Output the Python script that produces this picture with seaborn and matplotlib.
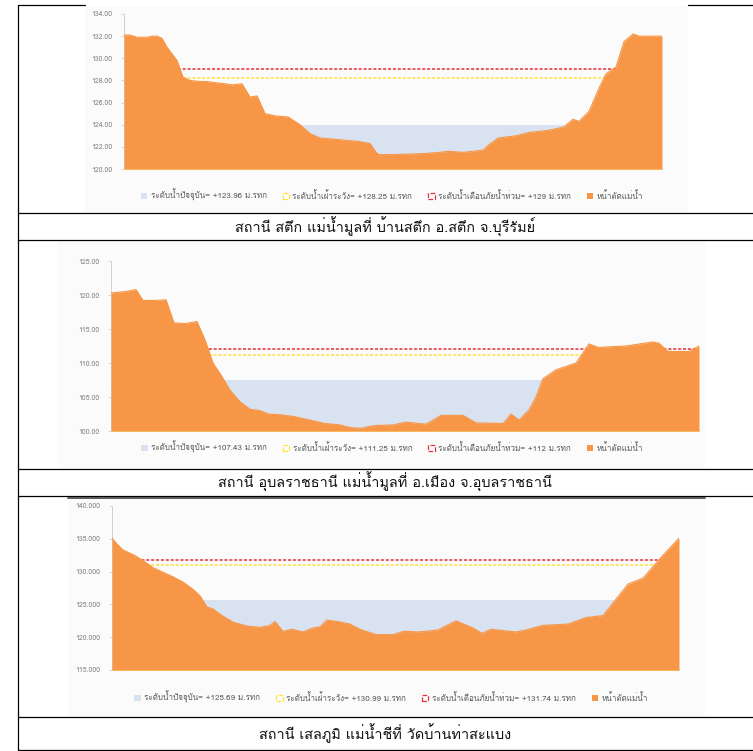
import numpy as np
import pandas as pd
import matplotlib
matplotlib.use("Agg")
import matplotlib.pyplot as plt
from matplotlib import font_manager
from matplotlib.ft2font import FT2Font
from matplotlib.lines import Line2D
from matplotlib.patches import Patch, Rectangle
import seaborn as sns

# ---- cross-section data (distance along section, bed elevation in m MSL) ----
dist_satuek = [0, 6, 13, 23, 28, 33, 38, 43, 48, 53, 59, 66, 76, 83, 91, 101, 108, 118,
               126, 133, 141, 151, 164, 176, 186, 196, 209, 221, 234, 246, 252, 255,
               269, 302, 315, 325, 339, 359, 365, 374, 392, 405, 425, 440, 449, 455,
               465, 475, 482, 492, 500, 509, 515, 538]
bed_satuek = [132.1, 132.1, 131.9, 131.9, 132.0, 132.0, 131.8, 131.0, 130.4, 129.8,
              128.3, 128.0, 127.9, 127.9, 127.8, 127.7, 127.6, 127.7, 126.5, 126.6,
              125.0, 124.8, 124.7, 124.0, 123.2, 122.8, 122.7, 122.6, 122.5, 122.3,
              121.5, 121.3, 121.3, 121.4, 121.5, 121.6, 121.5, 121.7, 122.2, 122.8,
              123.0, 123.3, 123.5, 123.8, 124.5, 124.3, 125.2, 127.3, 128.6, 129.2,
              131.5, 132.2, 132.0, 132.0]

dist_ubon = [0, 14, 25, 32, 44, 55, 63, 74, 86, 94, 102, 111, 119, 129, 139, 149, 157,
             169, 184, 199, 214, 229, 239, 251, 259, 265, 282, 295, 315, 330, 352, 365,
             392, 400, 408, 418, 425, 432, 445, 465, 478, 487, 515, 542, 548, 557, 578,
             588]
bed_ubon = [120.3, 120.5, 120.8, 119.2, 119.2, 119.3, 115.9, 115.8, 116.1, 113.4,
            110.0, 108.0, 106.0, 104.3, 103.2, 103.0, 102.5, 102.4, 102.1, 101.6,
            101.1, 100.9, 100.5, 100.4, 100.7, 100.8, 100.9, 101.3, 101.0, 102.3,
            102.3, 101.2, 101.1, 102.5, 101.6, 103.1, 105.0, 107.7, 109.0, 110.0,
            112.8, 112.3, 112.5, 113.1, 112.9, 111.7, 111.7, 112.5]

dist_selaphum = [0, 5, 11, 21, 31, 41, 51, 61, 71, 81, 88, 95, 101, 110, 121, 135, 148,
                 158, 163, 171, 180, 191, 201, 208, 215, 225, 238, 248, 264, 281, 292,
                 307, 326, 344, 361, 370, 379, 404, 414, 431, 456, 474, 491, 504, 516,
                 531, 551, 567]
bed_selaphum = [135.1, 134.2, 133.3, 132.6, 131.7, 130.6, 129.9, 129.2, 128.4, 127.3,
                126.3, 124.6, 124.3, 123.3, 122.3, 121.7, 121.5, 121.8, 122.4, 120.9,
                121.2, 120.8, 121.4, 121.6, 122.6, 122.4, 122.0, 121.2, 120.4, 120.4,
                120.9, 120.8, 121.1, 122.5, 121.4, 120.6, 121.2, 120.8, 121.1, 121.8,
                122.0, 123.0, 123.3, 125.8, 128.1, 129.0, 132.5, 135.1]

# water levels: current, watch, flood warning
levels_satuek = [123.96, 128.25, 129]
levels_ubon = [107.43, 111.25, 112]
levels_selaphum = [125.69, 130.99, 131.74]

level_text_satuek = ["+123.96", "+128.25", "+129"]
level_text_ubon = ["+107.43", "+111.25", "+112"]
level_text_selaphum = ["+125.69", "+130.99", "+131.74"]

yticks_satuek = [120, 122, 124, 126, 128, 130, 132, 134]
yticks_ubon = [100, 105, 110, 115, 120, 125]
yticks_selaphum = [115, 120, 125, 130, 135, 140]

captions = [
    "สถานี สตึก แม่น้ำมูลที่ บ้านสตึก อ.สตึก จ.บุรีรัมย์",
    "สถานี อุบลราชธานี แม่น้ำมูลที่ อ.เมือง จ.อุบลราชธานี",
    "สถานี เสลภูมิ แม่น้ำชีที่ วัดบ้านท่าสะแบง",
]
legend_labels = ["ระดับน้ำปัจจุบัน=", "ระดับน้ำเฝ้าระวัง=", "ระดับน้ำเตือนภัยน้ำท่วม=", "หน้าตัดแม่น้ำ"]
unit = "ม.รทก"

ORANGE = "#F79646"
BLUE = "#D9E2F0"
RED = "#E2303C"
YELLOW = "#FFE23A"
TICK_GREY = "#808080"

sns.set_theme(style="white")


def thai_families():
    names = []
    for f in font_manager.fontManager.ttflist:
        try:
            cmap = FT2Font(f.fname).get_charmap()
        except Exception:
            continue
        if 0x0E01 in cmap and f.name not in names:
            names.append(f.name)
    return names


plt.rcParams["font.family"] = thai_families() + ["DejaVu Sans"]

W, H = 753, 751
fig = plt.figure(figsize=(W / 100, H / 100), dpi=100, facecolor="white")


def frac_rect(l, t, r, b):
    return [l / W, 1 - b / H, (r - l) / W, (b - t) / H]


def hline_px(y, x0, x1, color="black", lw=0.9):
    fig.add_artist(Line2D([x0 / W, x1 / W], [1 - y / H, 1 - y / H],
                          transform=fig.transFigure, color=color, lw=lw))


def vline_px(x, y0, y1, color="black", lw=0.9):
    fig.add_artist(Line2D([x / W, x / W], [1 - y0 / H, 1 - y1 / H],
                          transform=fig.transFigure, color=color, lw=lw))


def section(rect, dist, bed, levels, level_text, yticks, fmt, legend_y, legend_x):
    ax = fig.add_axes(frac_rect(*rect))
    df = pd.DataFrame({"dist": dist, "bed": bed})
    ymin, ymax = yticks[0], yticks[-1]
    ax.fill_between(df["dist"], ymin, levels[0], color=BLUE, lw=0, zorder=1)
    ax.axhline(levels[1], color=YELLOW, lw=1.1, ls=(0, (2.0, 1.2)), zorder=2)
    ax.axhline(levels[2], color=RED, lw=1.1, ls=(0, (2.0, 1.2)), zorder=2)
    ax.fill_between(df["dist"], ymin, df["bed"], color=ORANGE, lw=0, zorder=3)
    sns.lineplot(data=df, x="dist", y="bed", ax=ax, color=ORANGE, lw=0.8, zorder=4)
    ax.set_xlim(df["dist"].iloc[0], df["dist"].iloc[-1])
    ax.set_ylim(ymin, ymax)
    ax.set_yticks(yticks)
    ax.set_yticklabels([fmt.format(v) for v in yticks])
    ax.set_xticks([])
    ax.set_xlabel("")
    ax.set_ylabel("")
    ax.set_facecolor("none")
    for s in ("top", "right"):
        ax.spines[s].set_visible(False)
    ax.spines["left"].set_color("#d0d0d0")
    ax.spines["left"].set_linewidth(0.7)
    ax.spines["bottom"].set_color("#f3dc7a")
    ax.spines["bottom"].set_linewidth(0.8)
    ax.tick_params(axis="y", labelsize=5, colors=TICK_GREY, length=2.5, width=0.6,
                   color="#d0d0d0", pad=6, left=True)
    handles = [
        Patch(facecolor=BLUE, edgecolor="none"),
        Patch(facecolor="white", edgecolor=YELLOW, ls="--", lw=0.9),
        Patch(facecolor="white", edgecolor=RED, ls="--", lw=0.9),
        Patch(facecolor=ORANGE, edgecolor="none"),
    ]
    labels = [f"{legend_labels[i]} {level_text[i]} {unit}" for i in range(3)] + [legend_labels[3]]
    fig.legend(handles, labels, loc="center", bbox_to_anchor=(legend_x / W, 1 - legend_y / H),
               ncol=4, frameon=False, fontsize=5.8, labelcolor="#595959",
               handlelength=0.8, handleheight=0.8, handletextpad=0.4, columnspacing=2.0)
    return ax


# faint chart backgrounds
for (l, t, r, b) in [(85, 6, 688, 212), (58, 241, 705, 468), (68, 498, 705, 716)]:
    fig.add_artist(Rectangle((l / W, 1 - b / H), (r - l) / W, (b - t) / H,
                             transform=fig.transFigure, facecolor="#fbfbfb",
                             edgecolor="none", zorder=0))

section((124, 14, 662, 169), dist_satuek, bed_satuek, levels_satuek, level_text_satuek,
        yticks_satuek, "{:.2f}", 195, 392)
section((111, 261, 699, 431), dist_ubon, bed_ubon, levels_ubon, level_text_ubon,
        yticks_ubon, "{:.2f}", 447, 392)
section((112, 506, 679, 670), dist_selaphum, bed_selaphum, levels_selaphum,
        level_text_selaphum, yticks_selaphum, "{:.3f}", 697, 391)

# table frame
hline_px(5, 18, 85)
hline_px(5, 688, 753)
vline_px(18, 5, 750)
for y in (213, 240, 469, 496, 717, 750):
    hline_px(y, 18, 753)
hline_px(498, 68, 705, color="#5a5a5a", lw=1.4)

for y, caption in zip((227, 482, 733), captions):
    fig.text(385 / W, 1 - y / H, caption, ha="center", va="center",
             fontsize=10.4, color="#111111")

fig.savefig("out.png", dpi=100, facecolor="white")
